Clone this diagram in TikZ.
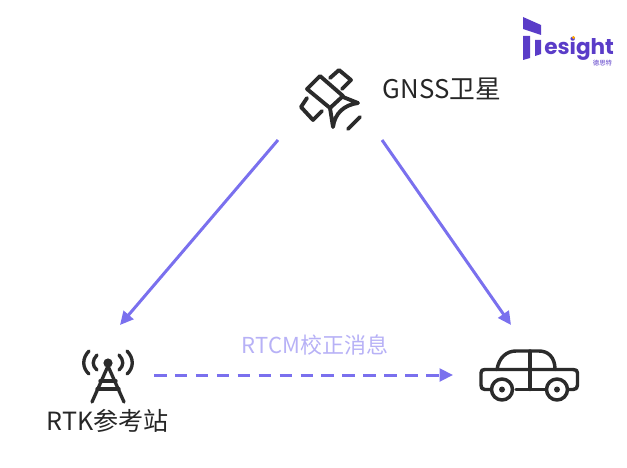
\documentclass[tikz,border=0pt]{standalone}
\usepackage{xcolor}
\usepackage{fontspec}
\setmainfont{Noto Sans CJK SC}
\newfontfamily\logofont{Poppins}
\usetikzlibrary{arrows.meta}
\definecolor{linkviolet}{HTML}{7A70EE}
\definecolor{msgviolet}{HTML}{B7B1F6}
\definecolor{icondark}{HTML}{2B2B2B}
\definecolor{logoviolet}{HTML}{5A3CC8}
\tikzset{
  iconline/.style={draw=icondark,line width=2.9pt,line cap=round,line join=round},
  linkarrow/.style={linkviolet,line width=2.25pt,-{Triangle[length=10pt,width=9.5pt]}},
  caption/.style={inner sep=0pt,text=black!85,font=\fontsize{19.3}{21}\selectfont},
}
\begin{document}
\begin{tikzpicture}[x=0.75pt,y=-0.75pt]
  \useasboundingbox (0,0) rectangle (627,467);
  % Logo in the upper right corner.
  \fill[logoviolet] (523,17) -- (541,25) -- (541,35) -- (523,29) -- cycle;
  \fill[logoviolet] (523,36) -- (530,36) -- (530,58) -- (523,60) -- cycle;
  \fill[logoviolet] (535,40) -- (541,40) -- (541,54) -- (535,56) -- cycle;
  \node[inner sep=0pt,anchor=base west,text=logoviolet,font=\logofont\bfseries\fontsize{16.2}{18}\selectfont] (brand) at (544,54.5) {esight};
  \fill[orange!70!yellow] (573.5,37.5) circle (1.7);
  \node[inner sep=0pt,text=logoviolet,font=\fontsize{4.8}{5}\selectfont] (brandcn) at (602.5,63.5) {德思特};
  % Satellite.
  \begin{scope}[iconline]
    \draw (320,76) -- (307,89) -- (330,108) -- (343,96) -- cycle;
    \draw (330,78) -- (339,70) -- (351,80) -- (342,89);
    \draw (307,98) -- (301,107) -- (313,120) -- (322,111);
    \draw (343,97) -- (358,103) .. controls (344,105) and (335,113) .. (333,127) -- (330,108);
    \draw (348,129) -- (360,117);
  \end{scope}
  % Mast with its radio waves.
  \begin{scope}[iconline,line width=2.5pt]
    \fill[icondark] (108,363) circle (4.6);
    \draw (108,366) -- (92,402);
    \draw (108,366) -- (124,402);
    \draw (100,381) -- (116,381);
    \draw (97,389) -- (119,389);
    \draw (97,355) .. controls (92,360) and (92,366) .. (97,370);
    \draw (89,351) .. controls (82,358) and (82,368) .. (89,374);
    \draw (119,355) .. controls (124,360) and (124,366) .. (119,370);
    \draw (127,351) .. controls (134,358) and (134,368) .. (127,374);
  \end{scope}
  % Car.
  \begin{scope}[iconline,line width=2.6pt]
    \draw (491,389.5) -- (485,389.5) .. controls (482,389.5) and (481,388) .. (481,385)
      -- (481,373) .. controls (481,370.5) and (482,369.5) .. (485,369.5)
      -- (573,369.5) .. controls (576,369.5) and (577.5,370.5) .. (577.5,373)
      -- (577.5,385) .. controls (577.5,388) and (576,389.5) .. (573,389.5) -- (568,389.5);
    \draw (497,369.5) .. controls (499,357) and (507,351) .. (516,351)
      -- (539,351) .. controls (548,351) and (555,357) .. (555,369.5);
    \draw (530,351) -- (530,389.5);
    \draw (516,389.5) -- (545,389.5);
    \foreach \wheelx in {502,557} {
      \draw (\wheelx,389.5) circle (10.5);
      \fill[icondark] (\wheelx,389.5) circle (3);
    }
  \end{scope}
  % Labels.
  \node[caption,anchor=west] (gnss) at (382.5,89) {GNSS卫星};
  \node[caption,anchor=west,font=\fontsize{18.8}{20}\selectfont] (rtk) at (46.5,421) {RTK参考站};
  \node[inner sep=0pt,text=msgviolet,font=\fontsize{16.5}{18}\selectfont] (rtcm) at (315,345) {RTCM校正消息};
  % Links.
  \coordinate (satleft) at (278,140);
  \coordinate (satright) at (382,140);
  \coordinate (stationin) at (120,325);
  \coordinate (stationout) at (154,375);
  \coordinate (carin) at (511,325);
  \coordinate (carside) at (453,375);
  \draw[linkarrow] (satleft) -- (stationin);
  \draw[linkarrow] (satright) -- (carin);
  \draw[linkarrow,dash pattern=on 9.4pt off 6.3pt] (stationout) -- (carside);
\end{tikzpicture}
\end{document}
